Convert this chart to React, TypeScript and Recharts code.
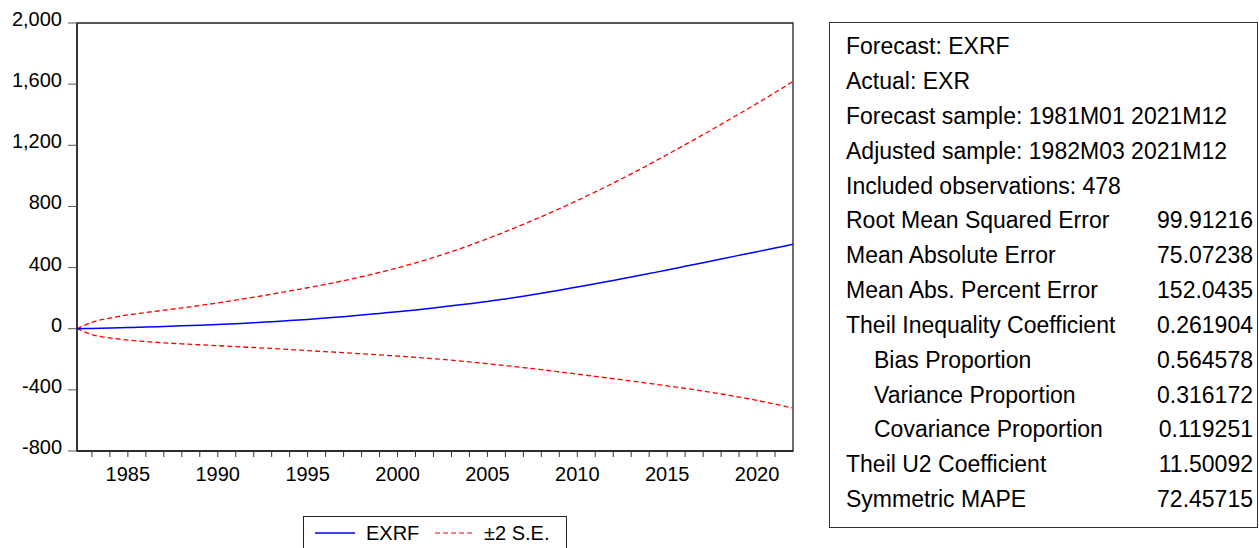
import { LineChart, Line, XAxis, YAxis, ReferenceArea } from "recharts";

// observation dates (decimal years), first obs 1982M03, last 2021M12
const obsDates = [
  1982.17, 1983, 1984, 1985, 1986, 1987, 1988, 1989, 1990, 1991, 1992, 1993, 1994,
  1995, 1996, 1997, 1998, 1999, 2000, 2001, 2002, 2003, 2004, 2005, 2006, 2007,
  2008, 2009, 2010, 2011, 2012, 2013, 2014, 2015, 2016, 2017, 2018, 2019, 2020,
  2021, 2022,
];

const exrf = [
  0, 2, 5, 8, 11, 15, 19, 23, 28, 33, 39, 46, 53, 61, 70, 79, 89, 100, 111, 123,
  136, 150, 164, 178, 195, 213, 232, 252, 273, 294, 316, 338, 361, 384, 408, 432,
  456, 480, 504, 528, 552,
];

const upperBand = [
  0, 42, 70, 90, 106, 121, 136, 152, 169, 187, 206, 226, 247, 268, 290, 314, 340,
  368, 398, 431, 466, 504, 545, 589, 635, 683, 733, 785, 839, 895, 953, 1013,
  1075, 1139, 1204, 1270, 1337, 1405, 1474, 1545, 1618,
];

const lowerBand = [
  0, -38, -60, -74, -84, -92, -99, -105, -111, -117, -123, -129, -136, -143, -150,
  -157, -164, -171, -179, -187, -196, -206, -217, -229, -241, -254, -268, -282,
  -297, -312, -327, -342, -358, -374, -390, -408, -427, -447, -469, -493, -519,
];

const yTicks = [-800, -400, 0, 400, 800, 1200, 1600, 2000];
const xTicks = [
  1983, 1984, 1985, 1986, 1987, 1988, 1989, 1990, 1991, 1992, 1993, 1994, 1995,
  1996, 1997, 1998, 1999, 2000, 2001, 2002, 2003, 2004, 2005, 2006, 2007, 2008,
  2009, 2010, 2011, 2012, 2013, 2014, 2015, 2016, 2017, 2018, 2019, 2020, 2021,
];

const statLabels = [
  "Forecast: EXRF",
  "Actual: EXR",
  "Forecast sample: 1981M01 2021M12",
  "Adjusted sample: 1982M03 2021M12",
  "Included observations: 478",
  "Root Mean Squared Error",
  "Mean Absolute Error",
  "Mean Abs. Percent Error",
  "Theil Inequality Coefficient",
  "Bias Proportion",
  "Variance Proportion",
  "Covariance Proportion",
  "Theil U2 Coefficient",
  "Symmetric MAPE",
];
const statValues = [
  "", "", "", "", "",
  "99.91216", "75.07238", "152.0435", "0.261904",
  "0.564578", "0.316172", "0.119251", "11.50092", "72.45715",
];
const statIndent = [0, 0, 0, 0, 0, 0, 0, 0, 0, 1, 1, 1, 0, 0];

const data = obsDates.map((t, i) => ({
  t,
  exrf: exrf[i],
  upper: upperBand[i],
  lower: lowerBand[i],
}));

const FONT = "'Liberation Sans', Arial, sans-serif";
const xDomain = [1982.17, 2022];

const YTick = (props: any) => {
  const { x, y, payload } = props;
  return (
    <text x={x} y={y + 3} textAnchor="end" fontSize={20} fontFamily={FONT} fill="#000">
      {payload.value.toLocaleString("en-US")}
    </text>
  );
};

const XTick = (props: any) => {
  const { x, y, payload } = props;
  if (payload.value % 5 !== 0) return <g />;
  return (
    <text x={x} y={y + 24} textAnchor="middle" fontSize={20} fontFamily={FONT} fill="#000">
      {payload.value}
    </text>
  );
};

export default function App() {
  return (
    <div
      style={{
        position: "absolute",
        left: 0,
        top: 0,
        width: 1259,
        height: 548,
        overflow: "hidden",
        background: "#fff",
        fontFamily: FONT,
      }}
    >
      <div style={{ position: "absolute", left: 0, top: 0 }}>
        <LineChart
          width={800}
          height={548}
          data={data}
          margin={{ top: 23, right: 7, left: 0, bottom: 67 }}
        >
          <XAxis
            dataKey="t"
            type="number"
            domain={xDomain}
            ticks={xTicks}
            interval={0}
            tick={<XTick />}
            tickSize={6}
            tickMargin={0}
            height={30}
            stroke="#000"
            tickLine={{ stroke: "#333" }}
          />
          <YAxis
            type="number"
            domain={[-800, 2000]}
            ticks={yTicks}
            interval={0}
            tick={<YTick />}
            tickSize={9}
            tickMargin={6}
            width={77}
            stroke="#000"
            tickLine={{ stroke: "#555" }}
          />
          {/* plot frame */}
          <ReferenceArea
            x1={xDomain[0]}
            x2={xDomain[1]}
            y1={-800}
            y2={2000}
            fill="none"
            fillOpacity={0}
            stroke="#222"
            strokeWidth={1.3}
          />
          <Line
            dataKey="upper"
            type="monotone"
            stroke="#ff0000"
            strokeWidth={1.3}
            strokeDasharray="5 3"
            dot={false}
            isAnimationActive={false}
          />
          <Line
            dataKey="lower"
            type="monotone"
            stroke="#ff0000"
            strokeWidth={1.3}
            strokeDasharray="5 3"
            dot={false}
            isAnimationActive={false}
          />
          <Line
            dataKey="exrf"
            type="monotone"
            stroke="#0000ff"
            strokeWidth={1.5}
            dot={false}
            isAnimationActive={false}
          />
        </LineChart>
      </div>

      {/* legend */}
      <div
        style={{
          position: "absolute",
          left: 303,
          top: 516,
          width: 264,
          height: 40,
          border: "1px solid #222",
          boxSizing: "border-box",
          background: "#fff",
        }}
      >
        <svg width={264} height={40} style={{ position: "absolute", left: -1, top: -1 }}>
          <line x1={12} x2={52} y1={17} y2={17} stroke="#0000ff" strokeWidth={1.3} />
          <text x={63} y={24} fontSize={20} fontFamily={FONT}>EXRF</text>
          <line x1={132} x2={172} y1={17} y2={17} stroke="#ff0000" strokeWidth={1.2} strokeDasharray="5 3" />
          <text x={181} y={24} fontSize={20} fontFamily={FONT}>±2 S.E.</text>
        </svg>
      </div>

      {/* statistics box */}
      <div
        style={{
          position: "absolute",
          left: 829,
          top: 22,
          width: 429,
          height: 506,
          border: "1px solid #333",
          boxSizing: "border-box",
        }}
      />
      {statLabels.map((label, i) => (
        <div
          key={label}
          style={{
            position: "absolute",
            left: 846 + statIndent[i] * 28,
            top: 29.1 + i * 34.85,
            width: 1253 - 846 - statIndent[i] * 28,
            height: 34.85,
            lineHeight: "34.85px",
            fontSize: 23,
            color: "#000",
            whiteSpace: "nowrap",
          }}
        >
          <span>{label}</span>
          {statValues[i] && (
            <span style={{ position: "absolute", right: 0 }}>{statValues[i]}</span>
          )}
        </div>
      ))}
    </div>
  );
}
